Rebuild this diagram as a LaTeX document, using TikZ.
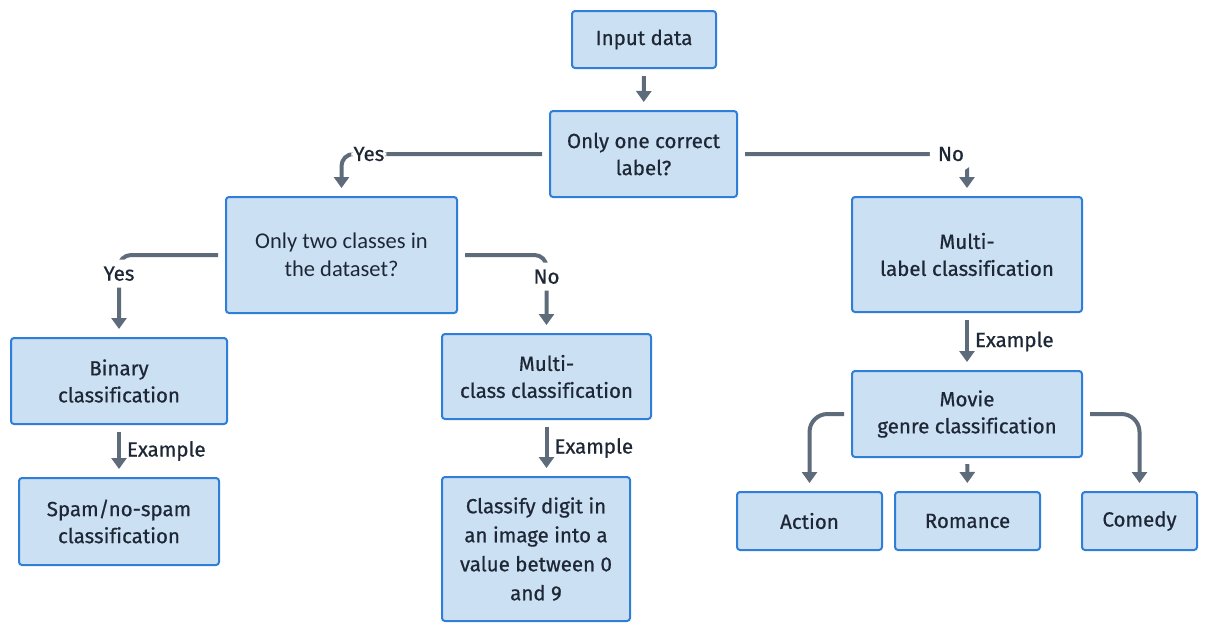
\documentclass[tikz,border=0pt]{standalone}
\usepackage{fontspec}
\setmainfont{Fira Sans}[Ligatures=NoCommon, FakeBold=0.6]
\newfontfamily\calibrifont{Carlito}
\usetikzlibrary{positioning,arrows.meta}

\definecolor{boxfill}{HTML}{CCE0F4}
\definecolor{boxline}{HTML}{2F7ED8}
\definecolor{edgecol}{HTML}{5E6B7B}
\definecolor{textcol}{HTML}{1E2735}

\begin{document}
\begin{tikzpicture}[x=1pt,y=-1pt]
  \tikzset{BoxStyle/.style = {
    shape         = rectangle,
    rounded corners = 3pt,
    draw          = boxline,
    fill          = boxfill,
    line width    = 2pt,
    text          = textcol,
    align         = center,
    inner sep     = 0pt,
    font          = \fontsize{20.5}{27}\selectfont
    }
  }
  \tikzset{EdgeStyle/.style = {
    draw          = edgecol,
    line width    = 4pt,
    -{Triangle[length=11pt,width=15pt]},
    rounded corners = 12pt,
    shorten <     = 7pt,
    shorten >     = 8pt
    }
  }
  \tikzset{EdgeLabelStyle/.style = {
    fill          = white,
    text          = textcol,
    inner sep     = 2pt,
    font          = \fontsize{20.5}{27}\selectfont
    }
  }
  \useasboundingbox (0,0) rectangle (1209,633);

	\node[BoxStyle, minimum width=144pt, minimum height=57pt](A1) at (644, 39.5) {Input data};
	\node[BoxStyle, minimum width=187pt, minimum height=86pt](A2) at (643.5, 154) {Only one correct\\label?};
	\node[BoxStyle, minimum width=231pt, minimum height=116pt, font=\calibrifont\fontsize{22.5}{28}\selectfont](B1) at (341.5, 255) {Only two classes in\\the dataset?};
	\node[BoxStyle, minimum width=230pt, minimum height=115pt](B2) at (967, 254.5) {Multi-\\label classification};
	\node[BoxStyle, minimum width=216pt, minimum height=86pt](C1) at (119, 381) {Binary\\classification};
	\node[BoxStyle, minimum width=209pt, minimum height=85pt](C2) at (546.5, 376.5) {Multi-\\class classification};
	\node[BoxStyle, minimum width=230pt, minimum height=86pt](C3) at (967, 414) {Movie\\genre classification};
	\node[BoxStyle, minimum width=200pt, minimum height=87pt](D1) at (119, 521.5) {Spam/no-spam\\classification};
	\node[BoxStyle, minimum width=188pt, minimum height=144pt, font=\fontsize{20.5}{29}\selectfont](D2) at (536, 549) {Classify digit in\\an image into a\\value between 0\\and 9};
	\node[BoxStyle, minimum width=145pt, minimum height=58pt](D3) at (809.5, 521) {Action};
	\node[BoxStyle, minimum width=145pt, minimum height=58pt](D4) at (967.5, 521) {Romance};
	\node[BoxStyle, minimum width=115pt, minimum height=58pt](D5) at (1139.5, 521) {Comedy};

	\draw[EdgeStyle](A1) to (A2);
	\draw[EdgeStyle](A2.west) -| node[EdgeLabelStyle, pos=0.434]{Yes} (B1.north);
	\draw[EdgeStyle](A2.east) -| node[EdgeLabelStyle, pos=0.465, minimum width=42pt, minimum height=34pt]{No} (B2.north);
	\draw[EdgeStyle](B1.west) -| node[EdgeLabelStyle, pos=0.614, minimum height=28pt]{Yes} (C1.north);
	\draw[EdgeStyle](B1.east) -| node[EdgeLabelStyle, pos=0.639, minimum height=28pt]{No} (C2.north);
	\draw[EdgeStyle](C1) to node[EdgeLabelStyle, right=4pt, fill=none]{Example} (D1);
	\draw[EdgeStyle](C2.south) to node[EdgeLabelStyle, right=4pt, fill=none]{Example} (C2.south |- D2.north);
	\draw[EdgeStyle](B2) to node[EdgeLabelStyle, right=4pt, fill=none]{Example} (C3);
	\draw[EdgeStyle, rounded corners=18pt](C3.west) -| (D3.north);
	\draw[EdgeStyle, shorten <=6pt](C3) to (D4);
	\draw[EdgeStyle, rounded corners=18pt](C3.east) -| (D5.north);
  \end{tikzpicture}
\end{document}
